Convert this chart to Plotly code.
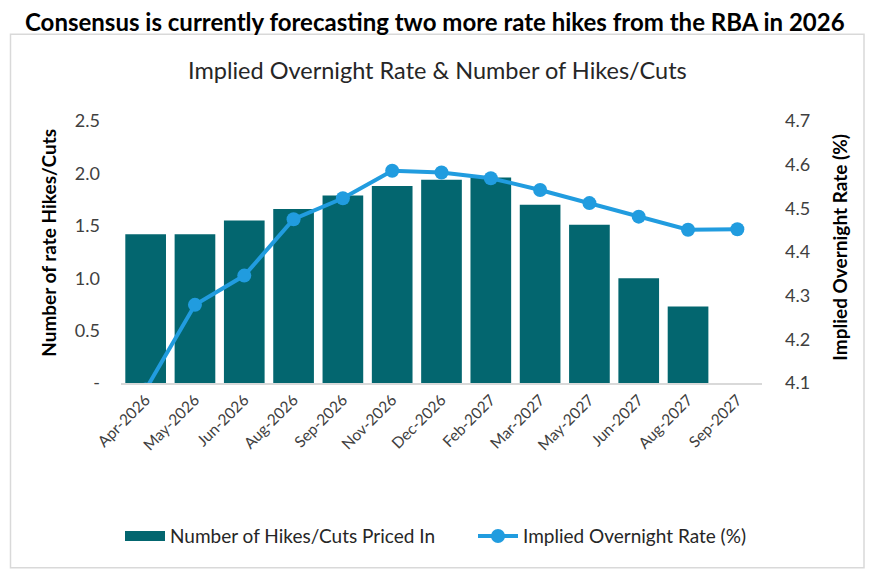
import plotly.graph_objects as go

categories = ["Apr-2026", "May-2026", "Jun-2026", "Aug-2026", "Sep-2026", "Nov-2026",
              "Dec-2026", "Feb-2027", "Mar-2027", "May-2027", "Jun-2027", "Aug-2027", "Sep-2027"]
hikes_priced = [1.42, 1.42, 1.55, 1.66, 1.79, 1.88, 1.94, 1.96, 1.70, 1.51, 1.00, 0.73, None]
overnight_rate = [4.085, 4.279, 4.346, 4.475, 4.523, 4.586, 4.582, 4.569, 4.542, 4.512, 4.481, 4.451, 4.452]

left_ticks = [0, 0.5, 1.0, 1.5, 2.0, 2.5]
left_ticktext = ["-", "0.5", "1.0", "1.5", "2.0", "2.5"]
right_ticks = [4.1, 4.2, 4.3, 4.4, 4.5, 4.6, 4.7]

FONT = "Lato"
BAR = "#03666F"
LINE = "#219CDF"

W, H = 876, 577
OFF = 8  # page body margin offset
# plot area in screenshot coordinates
X0, X1, Y0, Y1 = 121, 762, 121, 383.5
L, T = X0 - OFF, Y0 - OFF
R, B = W - (X1 - OFF), H - (Y1 - OFF)
pw, ph = X1 - X0, Y1 - Y0

def px(x):
    return (x - X0) / pw

def py(y):
    return (Y1 - y) / ph

fig = go.Figure()
fig.add_trace(go.Bar(
    x=categories, y=hikes_priced, name="Number of Hikes/Cuts Priced In",
    marker=dict(color=BAR, line=dict(width=0)), yaxis="y", showlegend=False,
))
# legend entry for the bars (wide swatch like the original)
fig.add_trace(go.Scatter(
    x=[None], y=[None], name="Number of Hikes/Cuts Priced In", mode="lines",
    line=dict(color=BAR, width=15), yaxis="y", showlegend=True, legend="legend",
))
fig.add_trace(go.Scatter(
    x=categories, y=overnight_rate, name="Implied Overnight Rate (%)",
    mode="lines+markers", line=dict(color=LINE, width=4),
    marker=dict(color=LINE, size=14), yaxis="y2", cliponaxis=True, legend="legend2",
))

legend_common = dict(orientation="h", yanchor="middle", xanchor="left",
                     font=dict(size=19, color="#262626"), itemwidth=40,
                     bgcolor="rgba(0,0,0,0)")

fig.update_layout(
    width=W, height=H,
    margin=dict(l=L, r=R, t=T, b=B, autoexpand=False),
    paper_bgcolor="white", plot_bgcolor="white",
    font=dict(family=FONT, color="#404040"),
    bargap=0.175,
    showlegend=True,
    legend=dict(x=px(120), y=py(537), **legend_common),
    legend2=dict(x=px(473), y=py(537), **legend_common),
    xaxis=dict(type="category", range=[-0.5, 12.5], tickangle=-45,
               tickfont=dict(size=15.5, color="#404040"),
               showline=True, linecolor="#D9D9D9", linewidth=1.5, showgrid=False,
               ticks="", zeroline=False, automargin=False),
    yaxis=dict(range=[0, 2.5], tickvals=left_ticks, ticktext=left_ticktext,
               tickfont=dict(size=18, color="#404040"), showgrid=False, zeroline=False,
               showline=False, ticklabelstandoff=20, automargin=False),
    yaxis2=dict(range=[4.1, 4.7], tickvals=right_ticks, ticktext=[f"{v:.1f}" for v in right_ticks],
                overlaying="y", side="right", tickfont=dict(size=18, color="#404040"),
                showgrid=False, zeroline=False, showline=False, ticklabelstandoff=22,
                automargin=False),
    shapes=[dict(type="rect", xref="paper", yref="paper",
                 x0=px(10.5), x1=px(864), y0=py(34), y1=py(568.5),
                 line=dict(color="#D9D9D9", width=1.5), fillcolor="rgba(0,0,0,0)", layer="below")],
    annotations=[
        dict(text="<b>Consensus is currently forecasting two more rate hikes from the RBA in 2026</b>",
             xref="paper", yref="paper", x=px(435), y=py(21), xanchor="center", yanchor="middle",
             showarrow=False, font=dict(size=24, color="black", family=FONT)),
        dict(text="Implied Overnight Rate & Number of Hikes/Cuts",
             xref="paper", yref="paper", x=px(437), y=py(70), xanchor="center", yanchor="middle",
             showarrow=False, font=dict(size=23.5, color="#262626", family=FONT)),
        dict(text="<b>Number of rate Hikes/Cuts</b>", textangle=-90,
             xref="paper", yref="paper", x=px(49), y=py(243), xanchor="center", yanchor="middle",
             showarrow=False, font=dict(size=19, color="black", family=FONT)),
        dict(text="<b>Implied Overnight Rate (%)</b>", textangle=-90,
             xref="paper", yref="paper", x=px(840), y=py(248), xanchor="center", yanchor="middle",
             showarrow=False, font=dict(size=19, color="black", family=FONT)),
    ],
)

fig.write_html("out.html")
